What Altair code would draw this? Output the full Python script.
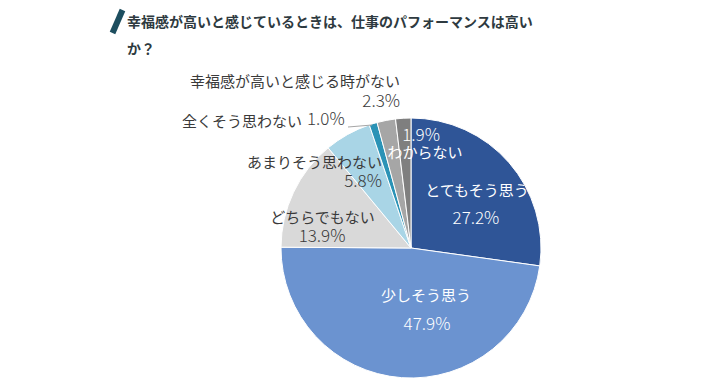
import altair as alt
import pandas as pd

categories = ["とてもそう思う", "少しそう思う", "どちらでもない", "あまりそう思わない",
              "全くそう思わない", "幸福感が高いと感じる時がない", "わからない"]
values = [27.2, 47.9, 13.9, 5.8, 1.0, 2.3, 1.9]
colors = ["#2F5597", "#6B93D0", "#D9D9D9", "#A9D5E6", "#2B93B6", "#A6A6A6", "#7F7F7F"]
title_lines = ["幸福感が高いと感じているときは、仕事のパフォーマンスは高い", "か？"]

df = pd.DataFrame({"idx": list(range(len(categories))), "category": categories, "value": values})
df["pct"] = [f"{v:.1f}%" for v in values]

CX, CY, R = 403, 240, 130
FONT = "Noto Sans CJK JP"

base = alt.Chart(df)

pie = base.mark_arc(radius=R, stroke="white", strokeWidth=1).encode(
    x=alt.value(CX), y=alt.value(CY),
    theta=alt.Theta("value:Q", stack=True, scale=alt.Scale(domain=[0, 100])),
    color=alt.Color("category:N", scale=alt.Scale(domain=categories, range=colors), legend=None),
    order=alt.Order("idx:Q", sort="ascending"),
)

# label placement: (radius, name dx, name dy, name align, pct dx, pct dy, pct align, color)
layout = {
    "とてもそう思う": (80, 5.6, -4.5, "center", 4.6, 23.5, "center", "white"),
    "少しそう思う": (65, 19.7, -16.8, "center", 20.7, 12.2, "center", "white"),
    "どちらでもない": (100, 1.9, 12.9, "center", 1.4, 31.9, "center", "#3A3A3A"),
    "あまりそう思わない": (100, 19.7, 2.3, "right", 19.7, 21.3, "right", "#3A3A3A"),
    "全くそう思わない": (140, -68.3, 7.9, "right", -63.3, 5.9, "left", "#3A3A3A"),
    "幸福感が高いと感じる時がない": (150, 17.6, -18.7, "right", 17.6, 1.3, "right", "#3A3A3A"),
    "わからない": (110, 20.6, 14.8, "center", 16.6, -2.2, "center", "white"),
}

lab_base = base.transform_window(
    cum="sum(value)", sort=[alt.SortField("idx", order="ascending")], frame=[None, 0]
).transform_calculate(mid="datum.cum - datum.value / 2")

layers = [pie]
for cat in categories:
    r, ndx, ndy, nal, pdx, pdy, pal, col = layout[cat]
    sub = lab_base.transform_filter(alt.datum.category == cat)
    enc = dict(x=alt.value(CX), y=alt.value(CY),
               theta=alt.Theta("mid:Q", stack=None, scale=alt.Scale(domain=[0, 100])))
    layers.append(sub.mark_text(radius=r, dx=ndx, dy=ndy, align=nal, baseline="middle",
                                font=FONT, fontSize=15, color=col).encode(text="category:N", **enc))
    layers.append(sub.mark_text(radius=r, dx=pdx, dy=pdy, align=pal, baseline="middle",
                                font=FONT, fontSize=17, fontWeight=300, color=col).encode(text="pct:N", **enc))

leader = base.mark_rule(color="#A6A6A6", strokeWidth=1).encode(
    x=alt.value(340), x2=alt.value(364), y=alt.value(119), y2=alt.value(117)
).transform_filter(alt.datum.idx == 0)

icon = base.mark_rule(color="#1D4E5F", strokeWidth=6, strokeCap="butt").encode(
    x=alt.value(104.5), x2=alt.value(114.5), y=alt.value(25), y2=alt.value(2)
).transform_filter(alt.datum.idx == 0)

title1 = base.mark_text(align="left", baseline="middle", font=FONT, fontSize=14,
                        fontWeight="bold", color="#2E3A40").encode(
    x=alt.value(119), y=alt.value(15), text=alt.value(title_lines[0])
).transform_filter(alt.datum.idx == 0)
title2 = base.mark_text(align="left", baseline="middle", font=FONT, fontSize=14,
                        fontWeight="bold", color="#2E3A40").encode(
    x=alt.value(119), y=alt.value(42), text=alt.value(title_lines[1])
).transform_filter(alt.datum.idx == 0)

chart = alt.layer(*layers, leader, icon, title1, title2).properties(
    width=704, height=375, autosize=alt.AutoSizeParams(type="none"), padding=0
).resolve_scale(theta="independent").configure_view(stroke=None)

chart.save("out.html", embed_options={"renderer": "svg", "actions": False})
